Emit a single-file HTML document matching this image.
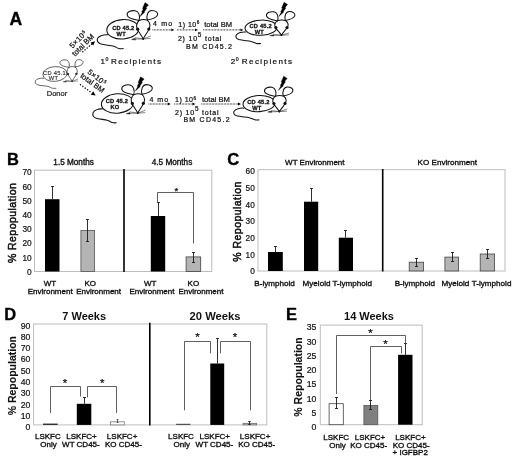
<!DOCTYPE html>
<html lang="en"><head><meta charset="utf-8"><title>Figure</title>
<style>html,body{margin:0;padding:0;background:#fff;}body{width:520px;height:463px;overflow:hidden;}svg{display:block;}text{font-family:'Liberation Sans', Arial, Helvetica, sans-serif;stroke:#111;stroke-width:0.35px;paint-order:stroke;}</style>
</head><body>
<svg width="520" height="463" viewBox="0 0 520 463">
<rect width="520" height="463" fill="#fff"/>
<text x="9.5" y="25.2" font-size="17.6" text-anchor="start" fill="#000" font-weight="bold" >A</text>
<path transform="translate(43.60 78.18) scale(0.798 0.737)" vector-effect="non-scaling-stroke" d="M0 0 C-4 -0.5 -9 1 -10.2 3.5 C-11.3 6 -10 8 -7.5 9 C-4 10.3 2 10.3 5.4 11.2 C8 11.8 9 13.2 11 13.6 C12.5 13.9 14 13.9 15.4 13.8" fill="none" stroke="#333" stroke-width="0.75" stroke-linecap="round"/>
<g transform="translate(55 74) scale(0.76 0.7600)" fill="none" stroke="#333" stroke-width="0.75" stroke-linecap="round">
<ellipse vector-effect="non-scaling-stroke" cx="0" cy="0" rx="16" ry="9.7" fill="#fff" transform="rotate(-4)"/>
<g transform="translate(2.105 0)">
<path vector-effect="non-scaling-stroke" d="M20.4 9.6 C18 4.5 13 0 13.8 -4.2 C14.3 -6.5 15.2 -8 16.3 -8.8 C19 -10 22 -10 24.5 -9.2 C25.8 -8.2 26.8 -6.5 27.1 -4.5 C27.8 0 22.8 4.5 20.4 9.6 Z" fill="#fff"/>
<path vector-effect="non-scaling-stroke" d="M20.4 9.6 L9.5 10 M20.4 9.6 L12.5 8.4 M20.4 9.6 L27.8 6.8 M20.4 9.6 L27.5 9.2" stroke-width="0.5"/>
<path vector-effect="non-scaling-stroke" d="M9 10.1 L12.6 9.0 L12.6 10.5 Z" fill="#333" stroke-width="0.3"/>
</g>
</g>
<circle cx="67.92" cy="73.92" r="1.22" fill="#333"/>
<circle cx="76.36" cy="73.85" r="1.22" fill="#333"/>
<circle cx="72.10" cy="81.30" r="0.68" fill="#333"/>
<g transform="translate(72.10 67.16) scale(0.7600) translate(-20.4 9)" fill="none" stroke="#333" stroke-width="0.75" stroke-linecap="round">
<path vector-effect="non-scaling-stroke" d="M16.3 -8.8 C12 -9.6 5 -10.6 4.4 -14.2 C3.9 -18 9 -19.1 12.5 -18.5 C16.2 -17.8 17.6 -13 16.3 -8.8"/>
<path vector-effect="non-scaling-stroke" d="M24.5 -9.2 C23.4 -14 25 -18.9 29 -18.9 C33 -18.9 35.6 -16.6 34.8 -14.4 C33.8 -11.5 29 -10 24.5 -9.2"/>
</g>
<text x="54.6" y="74.6" font-size="5.7" text-anchor="middle" fill="#333" letter-spacing="0.3" style="stroke-width:0.15px">CD 45.1</text>
<text x="53.5" y="79.8" font-size="5.7" text-anchor="middle" fill="#333" letter-spacing="0.3" style="stroke-width:0.15px">WT</text>
<text x="57" y="95.8" font-size="7.5" text-anchor="middle" fill="#222" style="stroke-width:0.22px">Donor</text>
<path transform="translate(107.80 34.80) scale(1.000 1.000)" vector-effect="non-scaling-stroke" d="M0 0 C-4 -0.5 -9 1 -10.2 3.5 C-11.3 6 -10 8 -7.5 9 C-4 10.3 2 10.3 5.4 11.2 C8 11.8 9 13.2 11 13.6 C12.5 13.9 14 13.9 15.4 13.8" fill="none" stroke="#111" stroke-width="1.05" stroke-linecap="round"/>
<g transform="translate(122.8 29.3) scale(1.0 1.0000)" fill="none" stroke="#111" stroke-width="1.05" stroke-linecap="round">
<ellipse vector-effect="non-scaling-stroke" cx="0" cy="0" rx="16" ry="9.7" fill="#fff" transform="rotate(-4)"/>
<g transform="translate(0.000 0)">
<path vector-effect="non-scaling-stroke" d="M20.4 9.6 C18 4.5 13 0 13.8 -4.2 C14.3 -6.5 15.2 -8 16.3 -8.8 C19 -10 22 -10 24.5 -9.2 C25.8 -8.2 26.8 -6.5 27.1 -4.5 C27.8 0 22.8 4.5 20.4 9.6 Z" fill="#fff"/>
<path vector-effect="non-scaling-stroke" d="M20.4 9.6 L9.5 10 M20.4 9.6 L12.5 8.4 M20.4 9.6 L27.8 6.8 M20.4 9.6 L27.5 9.2" stroke-width="0.5"/>
<path vector-effect="non-scaling-stroke" d="M9 10.1 L12.6 9.0 L12.6 10.5 Z" fill="#111" stroke-width="0.3"/>
</g>
</g>
<circle cx="137.70" cy="29.20" r="1.60" fill="#111"/>
<circle cx="148.80" cy="29.10" r="1.60" fill="#111"/>
<circle cx="143.20" cy="38.90" r="0.90" fill="#111"/>
<g transform="translate(143.20 20.30) scale(1.0000) translate(-20.4 9)" fill="none" stroke="#111" stroke-width="1.05" stroke-linecap="round">
<path vector-effect="non-scaling-stroke" d="M16.3 -8.8 C12 -9.6 5 -10.6 4.4 -14.2 C3.9 -18 9 -19.1 12.5 -18.5 C16.2 -17.8 17.6 -13 16.3 -8.8"/>
<path vector-effect="non-scaling-stroke" d="M24.5 -9.2 C23.4 -14 25 -18.9 29 -18.9 C33 -18.9 35.6 -16.6 34.8 -14.4 C33.8 -11.5 29 -10 24.5 -9.2"/>
</g>
<path transform="translate(143.20 20.30) translate(-20.4 9)" d="M22.2 -26.7 L25.7 -24.4 L23.2 -21.6 L24 -21 L21.4 -17.4 L21.9 -17 L16.9 -12.5 L19.4 -16.9 L18.8 -17.3 L20.5 -20.4 L19.7 -20.9 Z" fill="#000" stroke="#000" stroke-width="0.35" stroke-linejoin="miter"/>
<text x="123.3" y="30.3" font-size="5.7" text-anchor="middle" fill="#111" font-weight="bold" letter-spacing="0.2" style="stroke-width:0.28px">CD 45.2</text>
<text x="121.2" y="35.6" font-size="5.7" text-anchor="middle" fill="#111" font-weight="bold" letter-spacing="0.2" style="stroke-width:0.28px">WT</text>
<path transform="translate(246.00 31.99) scale(0.950 0.840)" vector-effect="non-scaling-stroke" d="M0 0 C-4 -0.5 -9 1 -10.2 3.5 C-11.3 6 -10 8 -7.5 9 C-4 10.3 2 10.3 5.4 11.2 C8 11.8 9 13.2 11 13.6 C12.5 13.9 14 13.9 15.4 13.8" fill="none" stroke="#111" stroke-width="1.05" stroke-linecap="round"/>
<g transform="translate(261 27.7) scale(1.0 0.7800)" fill="none" stroke="#111" stroke-width="1.05" stroke-linecap="round">
<ellipse vector-effect="non-scaling-stroke" cx="0" cy="0" rx="16" ry="9.7" fill="#fff" transform="rotate(-4)"/>
<g transform="translate(0.000 0)">
<path vector-effect="non-scaling-stroke" d="M20.4 9.6 C18 4.5 13 0 13.8 -4.2 C14.3 -6.5 15.2 -8 16.3 -8.8 C19 -10 22 -10 24.5 -9.2 C25.8 -8.2 26.8 -6.5 27.1 -4.5 C27.8 0 22.8 4.5 20.4 9.6 Z" fill="#fff"/>
<path vector-effect="non-scaling-stroke" d="M20.4 9.6 L9.5 10 M20.4 9.6 L12.5 8.4 M20.4 9.6 L27.8 6.8 M20.4 9.6 L27.5 9.2" stroke-width="0.5"/>
<path vector-effect="non-scaling-stroke" d="M9 10.1 L12.6 9.0 L12.6 10.5 Z" fill="#111" stroke-width="0.3"/>
</g>
</g>
<circle cx="275.90" cy="27.62" r="1.60" fill="#111"/>
<circle cx="287.00" cy="27.54" r="1.60" fill="#111"/>
<circle cx="281.40" cy="35.19" r="0.90" fill="#111"/>
<g transform="translate(281.40 20.68) scale(0.9300) translate(-20.4 9)" fill="none" stroke="#111" stroke-width="1.05" stroke-linecap="round">
<path vector-effect="non-scaling-stroke" d="M16.3 -8.8 C12 -9.6 5 -10.6 4.4 -14.2 C3.9 -18 9 -19.1 12.5 -18.5 C16.2 -17.8 17.6 -13 16.3 -8.8"/>
<path vector-effect="non-scaling-stroke" d="M24.5 -9.2 C23.4 -14 25 -18.9 29 -18.9 C33 -18.9 35.6 -16.6 34.8 -14.4 C33.8 -11.5 29 -10 24.5 -9.2"/>
</g>
<path transform="translate(282.30 19.98) translate(-20.4 9)" d="M22.2 -26.7 L25.7 -24.4 L23.2 -21.6 L24 -21 L21.4 -17.4 L21.9 -17 L16.9 -12.5 L19.4 -16.9 L18.8 -17.3 L20.5 -20.4 L19.7 -20.9 Z" fill="#000" stroke="#000" stroke-width="0.35" stroke-linejoin="miter"/>
<text x="260.7" y="28.0" font-size="5.7" text-anchor="middle" fill="#111" font-weight="bold" letter-spacing="0.2" style="stroke-width:0.28px">CD 45.2</text>
<text x="259.4" y="33.7" font-size="5.7" text-anchor="middle" fill="#111" font-weight="bold" letter-spacing="0.2" style="stroke-width:0.28px">WT</text>
<path transform="translate(102.40 109.00) scale(0.900 1.000)" vector-effect="non-scaling-stroke" d="M0 0 C-4 -0.5 -9 1 -10.2 3.5 C-11.3 6 -10 8 -7.5 9 C-4 10.3 2 10.3 5.4 11.2 C8 11.8 9 13.2 11 13.6 C12.5 13.9 14 13.9 15.4 13.8" fill="none" stroke="#111" stroke-width="1.05" stroke-linecap="round"/>
<g transform="translate(117.4 103.5) scale(1.0 1.0000)" fill="none" stroke="#111" stroke-width="1.05" stroke-linecap="round">
<ellipse vector-effect="non-scaling-stroke" cx="0" cy="0" rx="16" ry="9.7" fill="#fff" transform="rotate(-4)"/>
<g transform="translate(0.000 0)">
<path vector-effect="non-scaling-stroke" d="M20.4 9.6 C18 4.5 13 0 13.8 -4.2 C14.3 -6.5 15.2 -8 16.3 -8.8 C19 -10 22 -10 24.5 -9.2 C25.8 -8.2 26.8 -6.5 27.1 -4.5 C27.8 0 22.8 4.5 20.4 9.6 Z" fill="#fff"/>
<path vector-effect="non-scaling-stroke" d="M20.4 9.6 L9.5 10 M20.4 9.6 L12.5 8.4 M20.4 9.6 L27.8 6.8 M20.4 9.6 L27.5 9.2" stroke-width="0.5"/>
<path vector-effect="non-scaling-stroke" d="M9 10.1 L12.6 9.0 L12.6 10.5 Z" fill="#111" stroke-width="0.3"/>
</g>
</g>
<circle cx="132.30" cy="103.40" r="1.60" fill="#111"/>
<circle cx="143.40" cy="103.30" r="1.60" fill="#111"/>
<circle cx="137.80" cy="113.10" r="0.90" fill="#111"/>
<g transform="translate(137.80 94.50) scale(1.0000) translate(-20.4 9)" fill="none" stroke="#111" stroke-width="1.05" stroke-linecap="round">
<path vector-effect="non-scaling-stroke" d="M16.3 -8.8 C12 -9.6 5 -10.6 4.4 -14.2 C3.9 -18 9 -19.1 12.5 -18.5 C16.2 -17.8 17.6 -13 16.3 -8.8"/>
<path vector-effect="non-scaling-stroke" d="M24.5 -9.2 C23.4 -14 25 -18.9 29 -18.9 C33 -18.9 35.6 -16.6 34.8 -14.4 C33.8 -11.5 29 -10 24.5 -9.2"/>
</g>
<path transform="translate(138.80 94.50) translate(-20.4 9)" d="M22.2 -26.7 L25.7 -24.4 L23.2 -21.6 L24 -21 L21.4 -17.4 L21.9 -17 L16.9 -12.5 L19.4 -16.9 L18.8 -17.3 L20.5 -20.4 L19.7 -20.9 Z" fill="#000" stroke="#000" stroke-width="0.35" stroke-linejoin="miter"/>
<text x="116.9" y="103.4" font-size="5.7" text-anchor="middle" fill="#111" font-weight="bold" letter-spacing="0.2" style="stroke-width:0.28px">CD 45.2</text>
<text x="114.9" y="109.3" font-size="5.7" text-anchor="middle" fill="#111" font-weight="bold" letter-spacing="0.2" style="stroke-width:0.28px">KO</text>
<path transform="translate(244.00 108.16) scale(0.970 0.850)" vector-effect="non-scaling-stroke" d="M0 0 C-4 -0.5 -9 1 -10.2 3.5 C-11.3 6 -10 8 -7.5 9 C-4 10.3 2 10.3 5.4 11.2 C8 11.8 9 13.2 11 13.6 C12.5 13.9 14 13.9 15.4 13.8" fill="none" stroke="#111" stroke-width="1.05" stroke-linecap="round"/>
<g transform="translate(259 103.6) scale(1.0 0.8300)" fill="none" stroke="#111" stroke-width="1.05" stroke-linecap="round">
<ellipse vector-effect="non-scaling-stroke" cx="0" cy="0" rx="16" ry="9.7" fill="#fff" transform="rotate(-4)"/>
<g transform="translate(0.000 0)">
<path vector-effect="non-scaling-stroke" d="M20.4 9.6 C18 4.5 13 0 13.8 -4.2 C14.3 -6.5 15.2 -8 16.3 -8.8 C19 -10 22 -10 24.5 -9.2 C25.8 -8.2 26.8 -6.5 27.1 -4.5 C27.8 0 22.8 4.5 20.4 9.6 Z" fill="#fff"/>
<path vector-effect="non-scaling-stroke" d="M20.4 9.6 L9.5 10 M20.4 9.6 L12.5 8.4 M20.4 9.6 L27.8 6.8 M20.4 9.6 L27.5 9.2" stroke-width="0.5"/>
<path vector-effect="non-scaling-stroke" d="M9 10.1 L12.6 9.0 L12.6 10.5 Z" fill="#111" stroke-width="0.3"/>
</g>
</g>
<circle cx="273.90" cy="103.52" r="1.60" fill="#111"/>
<circle cx="285.00" cy="103.43" r="1.60" fill="#111"/>
<circle cx="279.40" cy="111.57" r="0.90" fill="#111"/>
<g transform="translate(279.40 96.13) scale(0.9300) translate(-20.4 9)" fill="none" stroke="#111" stroke-width="1.05" stroke-linecap="round">
<path vector-effect="non-scaling-stroke" d="M16.3 -8.8 C12 -9.6 5 -10.6 4.4 -14.2 C3.9 -18 9 -19.1 12.5 -18.5 C16.2 -17.8 17.6 -13 16.3 -8.8"/>
<path vector-effect="non-scaling-stroke" d="M24.5 -9.2 C23.4 -14 25 -18.9 29 -18.9 C33 -18.9 35.6 -16.6 34.8 -14.4 C33.8 -11.5 29 -10 24.5 -9.2"/>
</g>
<path transform="translate(281.90 93.83) translate(-20.4 9)" d="M22.2 -26.7 L25.7 -24.4 L23.2 -21.6 L24 -21 L21.4 -17.4 L21.9 -17 L16.9 -12.5 L19.4 -16.9 L18.8 -17.3 L20.5 -20.4 L19.7 -20.9 Z" fill="#000" stroke="#000" stroke-width="0.35" stroke-linejoin="miter"/>
<text x="258.4" y="104.3" font-size="5.7" text-anchor="middle" fill="#111" font-weight="bold" letter-spacing="0.2" style="stroke-width:0.28px">CD 45.2</text>
<text x="256.8" y="110.0" font-size="5.7" text-anchor="middle" fill="#111" font-weight="bold" letter-spacing="0.2" style="stroke-width:0.28px">WT</text>
<text x="80" y="41.1" font-size="7.5" text-anchor="middle" fill="#111" letter-spacing="0.3" transform="rotate(-45 80 41.1)" style="stroke-width:0.22px">5×10<tspan dx="0.4" dy="-2.5" font-size="4.5">5</tspan></text>
<text x="84.8" y="46.9" font-size="7.6" text-anchor="middle" fill="#111" transform="rotate(-45 84.8 46.9)" style="stroke-width:0.22px">total BM</text>
<line x1="82.8" y1="51.7" x2="91.91" y2="43.93" stroke="#111" stroke-width="1.5" stroke-dasharray="0.01 2.87" stroke-linecap="round"/>
<polygon points="95.10,41.20 93.20,45.45 90.61,42.41" fill="#000"/>
<text x="95.5" y="79.5" font-size="7.5" text-anchor="middle" fill="#111" letter-spacing="0.3" transform="rotate(37 95.5 79.5)" style="stroke-width:0.22px">5×10<tspan dx="0.4" dy="-2.5" font-size="4.5">5</tspan></text>
<text x="90.9" y="85" font-size="7.6" text-anchor="middle" fill="#111" transform="rotate(36 90.9 85)" style="stroke-width:0.22px">total BM</text>
<line x1="80.5" y1="84.7" x2="92.03" y2="93.02" stroke="#111" stroke-width="1.5" stroke-dasharray="0.01 2.9" stroke-linecap="round"/>
<polygon points="95.60,95.60 90.80,94.73 93.26,91.32" fill="#000"/>
<text x="153.1" y="26.2" font-size="7" text-anchor="start" fill="#111" letter-spacing="1.2" style="stroke-width:0.22px">4 mo</text>
<line x1="152.5" y1="29.9" x2="171.30" y2="29.90" stroke="#111" stroke-width="1.0" stroke-dasharray="0.8 0.7" stroke-linecap="butt"/>
<polygon points="174.30,29.90 171.30,31.30 171.30,28.50" fill="#000"/>
<text x="178.3" y="26.5" font-size="7" text-anchor="start" fill="#111" letter-spacing="0.5" style="stroke-width:0.22px">1) 10<tspan dy="-2.2" font-size="4.6">6</tspan></text>
<line x1="177" y1="29.9" x2="195.00" y2="29.90" stroke="#111" stroke-width="1.0" stroke-dasharray="0.8 0.7" stroke-linecap="butt"/>
<polygon points="198.00,29.90 195.00,31.30 195.00,28.50" fill="#000"/>
<text x="204.2" y="26.599999999999998" font-size="7.6" text-anchor="start" fill="#111" style="stroke-width:0.22px">total BM</text>
<line x1="203.2" y1="29.9" x2="240.40" y2="29.90" stroke="#111" stroke-width="1.0" stroke-dasharray="0.8 0.7" stroke-linecap="butt"/>
<polygon points="243.40,29.90 240.40,31.30 240.40,28.50" fill="#000"/>
<text x="177.9" y="40.8" font-size="7" text-anchor="start" fill="#111" letter-spacing="0.8" style="stroke-width:0.22px">2) 10<tspan dy="-3.8" font-size="6.4">5</tspan><tspan dy="3.8"> total</tspan></text>
<text x="186.1" y="48.6" font-size="7" text-anchor="start" fill="#111" letter-spacing="1.2" style="stroke-width:0.22px">BM CD45.2</text>
<text x="149.5" y="101.8" font-size="7" text-anchor="start" fill="#111" letter-spacing="1.0" style="stroke-width:0.22px">4 mo</text>
<line x1="148.5" y1="104" x2="167.70" y2="104.00" stroke="#111" stroke-width="1.0" stroke-dasharray="0.8 0.7" stroke-linecap="butt"/>
<polygon points="170.70,104.00 167.70,105.40 167.70,102.60" fill="#000"/>
<text x="175" y="102.1" font-size="7" text-anchor="start" fill="#111" letter-spacing="0.5" style="stroke-width:0.22px">1) 10<tspan dy="-2.2" font-size="4.6">6</tspan></text>
<line x1="174.3" y1="104" x2="192.40" y2="104.00" stroke="#111" stroke-width="1.0" stroke-dasharray="0.8 0.7" stroke-linecap="butt"/>
<polygon points="195.40,104.00 192.40,105.40 192.40,102.60" fill="#000"/>
<text x="202" y="102.2" font-size="7.6" text-anchor="start" fill="#111" style="stroke-width:0.22px">total BM</text>
<line x1="201.3" y1="104" x2="238.00" y2="104.00" stroke="#111" stroke-width="1.0" stroke-dasharray="0.8 0.7" stroke-linecap="butt"/>
<polygon points="241.00,104.00 238.00,105.40 238.00,102.60" fill="#000"/>
<text x="175" y="114.8" font-size="7" text-anchor="start" fill="#111" letter-spacing="0.8" style="stroke-width:0.22px">2) 10<tspan dy="-3.8" font-size="6.4">5</tspan><tspan dy="3.8"> total</tspan></text>
<text x="183.4" y="121.7" font-size="7" text-anchor="start" fill="#111" letter-spacing="1.25" style="stroke-width:0.22px">BM CD45.2</text>
<text x="100.6" y="63.8" font-size="8" text-anchor="start" fill="#111" style="stroke-width:0.22px">1</text>
<text x="105.4" y="61.0" font-size="5.2" text-anchor="start" fill="#111" style="stroke-width:0.22px">0</text>
<text x="111.0" y="63.8" font-size="8.1" text-anchor="start" fill="#111" letter-spacing="1.35" style="stroke-width:0.22px">Recipients</text>
<text x="230.8" y="64.2" font-size="8" text-anchor="start" fill="#111" style="stroke-width:0.22px">2</text>
<text x="235.8" y="61.4" font-size="5.2" text-anchor="start" fill="#111" style="stroke-width:0.22px">0</text>
<text x="241.8" y="64.2" font-size="8.1" text-anchor="start" fill="#111" letter-spacing="1.38" style="stroke-width:0.22px">Recipients</text>
<text x="7" y="164.6" font-size="16.5" text-anchor="start" fill="#000" font-weight="bold" >B</text>
<text x="16.5" y="222.9" font-size="10.5" text-anchor="middle" fill="#111" letter-spacing="0.45" transform="rotate(-90 16.5 222.9)" style="stroke-width:0.5px">% Repopulation</text>
<rect x="34.5" y="170.2" width="177.3" height="101.30000000000001" fill="none" stroke="#bdbdbd" stroke-width="1"/>
<text x="31.7" y="274.8" font-size="8.3" text-anchor="end" fill="#111" style="stroke-width:0.2px">0</text>
<text x="31.7" y="260.6" font-size="8.3" text-anchor="end" fill="#111" style="stroke-width:0.2px">10</text>
<text x="31.7" y="246.4" font-size="8.3" text-anchor="end" fill="#111" style="stroke-width:0.2px">20</text>
<text x="31.7" y="232.20000000000002" font-size="8.3" text-anchor="end" fill="#111" style="stroke-width:0.2px">30</text>
<text x="31.7" y="218.0" font-size="8.3" text-anchor="end" fill="#111" style="stroke-width:0.2px">40</text>
<text x="31.7" y="203.8" font-size="8.3" text-anchor="end" fill="#111" style="stroke-width:0.2px">50</text>
<text x="31.7" y="189.60000000000002" font-size="8.3" text-anchor="end" fill="#111" style="stroke-width:0.2px">60</text>
<text x="31.7" y="175.40000000000003" font-size="8.3" text-anchor="end" fill="#111" style="stroke-width:0.2px">70</text>
<text x="73.6" y="164.8" font-size="8.2" text-anchor="middle" fill="#111" >1.5 Months</text>
<text x="172" y="164.8" font-size="8.2" text-anchor="middle" fill="#111" >4.5 Months</text>
<line x1="124" y1="169" x2="124" y2="272.0" stroke="#000" stroke-width="1.6" />
<rect x="45" y="199.2" width="14.5" height="72.30000000000001" fill="#000" stroke="none" stroke-width="1"/>
<line x1="52.5" y1="186.5" x2="52.5" y2="199.2" stroke="#1a1a1a" stroke-width="0.9" />
<line x1="51.0" y1="186.5" x2="54.0" y2="186.5" stroke="#1a1a1a" stroke-width="0.9" />
<rect x="80.9" y="230.4" width="13.7" height="41.1" fill="#b4b4b4" stroke="#555" stroke-width="0.8"/>
<line x1="87.5" y1="219.5" x2="87.5" y2="241.5" stroke="#1a1a1a" stroke-width="0.9" />
<line x1="86.0" y1="219.5" x2="89.0" y2="219.5" stroke="#1a1a1a" stroke-width="0.9" />
<line x1="86.0" y1="241.5" x2="89.0" y2="241.5" stroke="#1a1a1a" stroke-width="0.9" />
<rect x="150.8" y="216" width="14.399999999999977" height="55.5" fill="#000" stroke="none" stroke-width="1"/>
<line x1="158.5" y1="202.5" x2="158.5" y2="216" stroke="#1a1a1a" stroke-width="0.9" />
<line x1="157.0" y1="202.5" x2="160.0" y2="202.5" stroke="#1a1a1a" stroke-width="0.9" />
<rect x="186.1" y="256.9" width="14.600000000000005" height="14.6" fill="#b4b4b4" stroke="#444" stroke-width="0.8"/>
<line x1="193.5" y1="252.5" x2="193.5" y2="262.5" stroke="#1a1a1a" stroke-width="0.9" />
<line x1="192.0" y1="252.5" x2="195.0" y2="252.5" stroke="#1a1a1a" stroke-width="0.9" />
<line x1="192.0" y1="262.5" x2="195.0" y2="262.5" stroke="#1a1a1a" stroke-width="0.9" />
<path d="M157.5 202 V192.5 H193.5 V243.5" fill="none" stroke="#444" stroke-width="0.85"/>
<text x="176.3" y="193.77" font-size="9.5" text-anchor="middle" fill="#111" style="stroke-width:0.25px">*</text>
<text x="49.9" y="285.5" font-size="8" text-anchor="middle" fill="#111" >WT</text>
<text x="50.2" y="293.6" font-size="8" text-anchor="middle" fill="#111" >Environment</text>
<text x="90.3" y="285.5" font-size="8" text-anchor="middle" fill="#111" >KO</text>
<text x="98.6" y="293.6" font-size="8" text-anchor="middle" fill="#111" >Environment</text>
<text x="150.2" y="285.5" font-size="8" text-anchor="middle" fill="#111" >WT</text>
<text x="152" y="293.6" font-size="8" text-anchor="middle" fill="#111" >Environment</text>
<text x="193.4" y="285.5" font-size="8" text-anchor="middle" fill="#111" >KO</text>
<text x="201" y="293.6" font-size="8" text-anchor="middle" fill="#111" >Environment</text>
<text x="227.2" y="164.9" font-size="16.6" text-anchor="start" fill="#000" font-weight="bold" >C</text>
<text x="240.7" y="221.4" font-size="10.5" text-anchor="middle" fill="#111" letter-spacing="0.45" transform="rotate(-90 240.7 221.4)" style="stroke-width:0.5px">% Repopulation</text>
<rect x="258" y="169.7" width="247" height="101.30000000000001" fill="none" stroke="#bdbdbd" stroke-width="1"/>
<text x="254.8" y="274.2" font-size="8.3" text-anchor="end" fill="#111" style="stroke-width:0.2px">0</text>
<text x="254.8" y="257.53" font-size="8.3" text-anchor="end" fill="#111" style="stroke-width:0.2px">10</text>
<text x="254.8" y="240.85999999999999" font-size="8.3" text-anchor="end" fill="#111" style="stroke-width:0.2px">20</text>
<text x="254.8" y="224.19" font-size="8.3" text-anchor="end" fill="#111" style="stroke-width:0.2px">30</text>
<text x="254.8" y="207.51999999999998" font-size="8.3" text-anchor="end" fill="#111" style="stroke-width:0.2px">40</text>
<text x="254.8" y="190.84999999999997" font-size="8.3" text-anchor="end" fill="#111" style="stroke-width:0.2px">50</text>
<text x="254.8" y="174.18" font-size="8.3" text-anchor="end" fill="#111" style="stroke-width:0.2px">60</text>
<text x="314.8" y="165.2" font-size="8.0" text-anchor="middle" fill="#111" >WT Environment</text>
<text x="447.3" y="165.2" font-size="8.1" text-anchor="middle" fill="#111" >KO Environment</text>
<line x1="382.7" y1="169" x2="382.7" y2="271.5" stroke="#000" stroke-width="1.6" />
<rect x="268" y="252" width="14.800000000000011" height="19" fill="#000" stroke="none" stroke-width="1"/>
<line x1="275.5" y1="246.5" x2="275.5" y2="252" stroke="#1a1a1a" stroke-width="0.9" />
<line x1="274.0" y1="246.5" x2="277.0" y2="246.5" stroke="#1a1a1a" stroke-width="0.9" />
<rect x="304" y="201.7" width="14.199999999999989" height="69.30000000000001" fill="#000" stroke="none" stroke-width="1"/>
<line x1="311.5" y1="188.5" x2="311.5" y2="201.7" stroke="#1a1a1a" stroke-width="0.9" />
<line x1="310.0" y1="188.5" x2="313.0" y2="188.5" stroke="#1a1a1a" stroke-width="0.9" />
<rect x="338.8" y="237.7" width="14.199999999999989" height="33.30000000000001" fill="#000" stroke="none" stroke-width="1"/>
<line x1="345.5" y1="230.5" x2="345.5" y2="237.7" stroke="#1a1a1a" stroke-width="0.9" />
<line x1="344.0" y1="230.5" x2="347.0" y2="230.5" stroke="#1a1a1a" stroke-width="0.9" />
<rect x="409.2" y="262.2" width="14.399999999999988" height="8.799999999999988" fill="#b4b4b4" stroke="#444" stroke-width="0.8"/>
<line x1="416.5" y1="258.5" x2="416.5" y2="266.5" stroke="#1a1a1a" stroke-width="0.9" />
<line x1="415.0" y1="258.5" x2="418.0" y2="258.5" stroke="#1a1a1a" stroke-width="0.9" />
<line x1="415.0" y1="266.5" x2="418.0" y2="266.5" stroke="#1a1a1a" stroke-width="0.9" />
<rect x="444.9" y="257.09999999999997" width="13.7" height="13.900000000000011" fill="#b4b4b4" stroke="#444" stroke-width="0.8"/>
<line x1="452.5" y1="252.5" x2="452.5" y2="261.5" stroke="#1a1a1a" stroke-width="0.9" />
<line x1="451.0" y1="252.5" x2="454.0" y2="252.5" stroke="#1a1a1a" stroke-width="0.9" />
<line x1="451.0" y1="261.5" x2="454.0" y2="261.5" stroke="#1a1a1a" stroke-width="0.9" />
<rect x="480.2" y="254.0" width="14.399999999999988" height="17.000000000000007" fill="#b4b4b4" stroke="#444" stroke-width="0.8"/>
<line x1="487.5" y1="249.5" x2="487.5" y2="258.5" stroke="#1a1a1a" stroke-width="0.9" />
<line x1="486.0" y1="249.5" x2="489.0" y2="249.5" stroke="#1a1a1a" stroke-width="0.9" />
<line x1="486.0" y1="258.5" x2="489.0" y2="258.5" stroke="#1a1a1a" stroke-width="0.9" />
<text x="274.6" y="285.7" font-size="8.1" text-anchor="middle" fill="#111" >B-lymphoid</text>
<text x="316.5" y="285.7" font-size="8.1" text-anchor="middle" fill="#111" >Myeloid</text>
<text x="352.3" y="285.7" font-size="8.1" text-anchor="middle" fill="#111" >T-lymphoid</text>
<text x="414.9" y="285.7" font-size="8.1" text-anchor="middle" fill="#111" >B-lymphoid</text>
<text x="455.4" y="285.7" font-size="8.1" text-anchor="middle" fill="#111" >Myeloid</text>
<text x="491.6" y="285.7" font-size="8.1" text-anchor="middle" fill="#111" >T-lymphoid</text>
<text x="4.3" y="320.2" font-size="16.5" text-anchor="start" fill="#000" font-weight="bold" >D</text>
<text x="16.3" y="375.7" font-size="10.5" text-anchor="middle" fill="#111" font-weight="bold" letter-spacing="0" transform="rotate(-90 16.3 375.7)" style="stroke-width:0.1px">% Repopulation</text>
<rect x="33.6" y="324" width="233.20000000000002" height="100.89999999999998" fill="none" stroke="#bdbdbd" stroke-width="1"/>
<text x="30.4" y="430.20000000000005" font-size="8.7" text-anchor="end" fill="#111" style="stroke-width:0.2px">0</text>
<text x="30.4" y="418.90000000000003" font-size="8.7" text-anchor="end" fill="#111" style="stroke-width:0.2px">10</text>
<text x="30.4" y="407.6" font-size="8.7" text-anchor="end" fill="#111" style="stroke-width:0.2px">20</text>
<text x="30.4" y="396.30000000000007" font-size="8.7" text-anchor="end" fill="#111" style="stroke-width:0.2px">30</text>
<text x="30.4" y="385.00000000000006" font-size="8.7" text-anchor="end" fill="#111" style="stroke-width:0.2px">40</text>
<text x="30.4" y="373.70000000000005" font-size="8.7" text-anchor="end" fill="#111" style="stroke-width:0.2px">50</text>
<text x="30.4" y="362.40000000000003" font-size="8.7" text-anchor="end" fill="#111" style="stroke-width:0.2px">60</text>
<text x="30.4" y="351.1" font-size="8.7" text-anchor="end" fill="#111" style="stroke-width:0.2px">70</text>
<text x="30.4" y="339.80000000000007" font-size="8.7" text-anchor="end" fill="#111" style="stroke-width:0.2px">80</text>
<text x="30.4" y="328.50000000000006" font-size="8.7" text-anchor="end" fill="#111" style="stroke-width:0.2px">90</text>
<text x="84.2" y="319.6" font-size="11" text-anchor="middle" fill="#111" font-weight="bold" style="stroke:none">7 Weeks</text>
<text x="215" y="319.6" font-size="11.2" text-anchor="middle" fill="#111" font-weight="bold" style="stroke:none">20 Weeks</text>
<line x1="149.8" y1="322.8" x2="149.8" y2="425.4" stroke="#000" stroke-width="1.6" />
<rect x="43" y="423.6" width="14.700000000000003" height="1.2999999999999545" fill="#222" stroke="none" stroke-width="1"/>
<rect x="76.8" y="403.8" width="14.5" height="21.099999999999966" fill="#000" stroke="none" stroke-width="1"/>
<line x1="84.5" y1="397.5" x2="84.5" y2="403.8" stroke="#1a1a1a" stroke-width="0.9" />
<line x1="83.0" y1="397.5" x2="86.0" y2="397.5" stroke="#1a1a1a" stroke-width="0.9" />
<rect x="110.4" y="421.79999999999995" width="13.900000000000002" height="3.1" fill="#fff" stroke="#777" stroke-width="0.8"/>
<line x1="117.5" y1="419.5" x2="117.5" y2="422.5" stroke="#444" stroke-width="0.8" />
<line x1="116.5" y1="419.5" x2="118.5" y2="419.5" stroke="#444" stroke-width="0.8" />
<line x1="116.5" y1="422.5" x2="118.5" y2="422.5" stroke="#444" stroke-width="0.8" />
<path d="M50.5 413 V386.5 H80.5 V396.5" fill="none" stroke="#444" stroke-width="0.85"/>
<text x="65.1" y="386.6" font-size="11.5" text-anchor="middle" fill="#111" style="stroke-width:0.25px">*</text>
<path d="M87.5 397.4 V386.5 H116.5 V413" fill="none" stroke="#444" stroke-width="0.85"/>
<text x="102.3" y="386.6" font-size="11.5" text-anchor="middle" fill="#111" style="stroke-width:0.25px">*</text>
<rect x="176.1" y="423.8" width="14.300000000000011" height="1.099999999999966" fill="#444" stroke="none" stroke-width="1"/>
<rect x="210.3" y="363.5" width="13.899999999999977" height="61.39999999999998" fill="#000" stroke="none" stroke-width="1"/>
<line x1="217.5" y1="338.5" x2="217.5" y2="363.5" stroke="#1a1a1a" stroke-width="0.9" />
<line x1="216.0" y1="338.5" x2="219.0" y2="338.5" stroke="#1a1a1a" stroke-width="0.9" />
<rect x="243.1" y="423.29999999999995" width="13.50000000000001" height="1.6" fill="#ccc" stroke="#666" stroke-width="0.8"/>
<line x1="249.5" y1="421.5" x2="249.5" y2="424.5" stroke="#1a1a1a" stroke-width="0.9" />
<line x1="248.3" y1="421.5" x2="250.7" y2="421.5" stroke="#1a1a1a" stroke-width="0.9" />
<line x1="248.3" y1="424.5" x2="250.7" y2="424.5" stroke="#1a1a1a" stroke-width="0.9" />
<path d="M184.5 410.3 V341.5 H210.5 V353.3" fill="none" stroke="#444" stroke-width="0.85"/>
<text x="197.5" y="341.2" font-size="11.5" text-anchor="middle" fill="#111" style="stroke-width:0.25px">*</text>
<path d="M220.5 353.3 V341.5 H250.5 V410.3" fill="none" stroke="#444" stroke-width="0.85"/>
<text x="234.9" y="341.2" font-size="11.5" text-anchor="middle" fill="#111" style="stroke-width:0.25px">*</text>
<text x="47.9" y="438.9" font-size="8" text-anchor="middle" fill="#111" >LSKFC</text>
<text x="48.6" y="446.6" font-size="8" text-anchor="middle" fill="#111" >Only</text>
<text x="81.5" y="438.9" font-size="8" text-anchor="middle" fill="#111" >LSKFC+</text>
<text x="80.9" y="446.6" font-size="8" text-anchor="middle" fill="#111" >WT CD45-</text>
<text x="122.1" y="438.9" font-size="8" text-anchor="middle" fill="#111" >LSKFC+</text>
<text x="123.4" y="446.6" font-size="8" text-anchor="middle" fill="#111" >KO CD45-</text>
<text x="181" y="438.9" font-size="8" text-anchor="middle" fill="#111" >LSKFC</text>
<text x="181.8" y="446.6" font-size="8" text-anchor="middle" fill="#111" >Only</text>
<text x="214.8" y="438.9" font-size="8" text-anchor="middle" fill="#111" >LSKFC+</text>
<text x="214.4" y="446.6" font-size="8" text-anchor="middle" fill="#111" >WT CD45-</text>
<text x="255.1" y="438.9" font-size="8" text-anchor="middle" fill="#111" >LSKFC+</text>
<text x="256.7" y="446.6" font-size="8" text-anchor="middle" fill="#111" >KO CD45-</text>
<text x="286" y="319.6" font-size="16.5" text-anchor="start" fill="#000" font-weight="bold" >E</text>
<text x="301.7" y="377" font-size="10.5" text-anchor="middle" fill="#111" font-weight="bold" letter-spacing="0" transform="rotate(-90 301.7 377)" style="stroke-width:0.1px">% Repopulation</text>
<rect x="320.3" y="325.1" width="101.89999999999998" height="99.59999999999997" fill="none" stroke="#bdbdbd" stroke-width="1"/>
<text x="316.4" y="430.1" font-size="8.7" text-anchor="end" fill="#111" style="stroke-width:0.2px">0</text>
<text x="316.4" y="415.84000000000003" font-size="8.7" text-anchor="end" fill="#111" style="stroke-width:0.2px">5</text>
<text x="316.4" y="401.58000000000004" font-size="8.7" text-anchor="end" fill="#111" style="stroke-width:0.2px">10</text>
<text x="316.4" y="387.32000000000005" font-size="8.7" text-anchor="end" fill="#111" style="stroke-width:0.2px">15</text>
<text x="316.4" y="373.06" font-size="8.7" text-anchor="end" fill="#111" style="stroke-width:0.2px">20</text>
<text x="316.4" y="358.8" font-size="8.7" text-anchor="end" fill="#111" style="stroke-width:0.2px">25</text>
<text x="316.4" y="344.54" font-size="8.7" text-anchor="end" fill="#111" style="stroke-width:0.2px">30</text>
<text x="316.4" y="330.28000000000003" font-size="8.7" text-anchor="end" fill="#111" style="stroke-width:0.2px">35</text>
<text x="369" y="319.6" font-size="11" text-anchor="middle" fill="#111" font-weight="bold" style="stroke:none">14 Weeks</text>
<rect x="329.09999999999997" y="403.7" width="14.2" height="20.99999999999998" fill="#fff" stroke="#444" stroke-width="0.8"/>
<line x1="336.5" y1="397.5" x2="336.5" y2="408.5" stroke="#1a1a1a" stroke-width="0.9" />
<line x1="335.0" y1="397.5" x2="338.0" y2="397.5" stroke="#1a1a1a" stroke-width="0.9" />
<line x1="335.0" y1="408.5" x2="338.0" y2="408.5" stroke="#1a1a1a" stroke-width="0.9" />
<rect x="363.9" y="405.4" width="13.899999999999988" height="19.29999999999999" fill="#808080" stroke="#555" stroke-width="0.8"/>
<line x1="370.5" y1="400.5" x2="370.5" y2="409.5" stroke="#1a1a1a" stroke-width="0.9" />
<line x1="369.0" y1="400.5" x2="372.0" y2="400.5" stroke="#1a1a1a" stroke-width="0.9" />
<line x1="369.0" y1="409.5" x2="372.0" y2="409.5" stroke="#1a1a1a" stroke-width="0.9" />
<rect x="398.1" y="354.8" width="14.399999999999977" height="69.89999999999998" fill="#000" stroke="none" stroke-width="1"/>
<line x1="405.5" y1="343.5" x2="405.5" y2="354.8" stroke="#1a1a1a" stroke-width="0.9" />
<line x1="404.0" y1="343.5" x2="407.0" y2="343.5" stroke="#1a1a1a" stroke-width="0.9" />
<path d="M336.5 394 V335.5 H405.5 V344" fill="none" stroke="#444" stroke-width="0.85"/>
<text x="370.4" y="336.7" font-size="11.5" text-anchor="middle" fill="#111" style="stroke-width:0.25px">*</text>
<path d="M370.5 400 V346.5 H401.5 V353.5" fill="none" stroke="#444" stroke-width="0.85"/>
<text x="385.6" y="347.9" font-size="11.5" text-anchor="middle" fill="#111" style="stroke-width:0.25px">*</text>
<text x="336.2" y="439.8" font-size="8" text-anchor="middle" fill="#111" >LSKFC</text>
<text x="337.6" y="447.6" font-size="8" text-anchor="middle" fill="#111" >Only</text>
<text x="370" y="439.8" font-size="8" text-anchor="middle" fill="#111" >LSKFC+</text>
<text x="368.7" y="447.6" font-size="8" text-anchor="middle" fill="#111" >KO CD45-</text>
<text x="410.4" y="439.8" font-size="8" text-anchor="middle" fill="#111" >LSKFC+</text>
<text x="411.2" y="447.6" font-size="8" text-anchor="middle" fill="#111" >KO CD45-</text>
<text x="410.2" y="455.3" font-size="8" text-anchor="middle" fill="#111" >+ IGFBP2</text>
</svg></body></html>
